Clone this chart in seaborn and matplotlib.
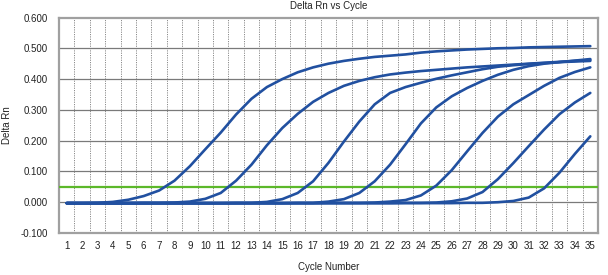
import matplotlib
matplotlib.use("Agg")
import matplotlib.pyplot as plt
import seaborn as sns
import pandas as pd
import numpy as np

cycles = list(range(1, 36))
curve_a = [-0.003, -0.003, -0.002, 0.001, 0.008, 0.020, 0.038, 0.070, 0.117, 0.172,
           0.226, 0.285, 0.336, 0.374, 0.400, 0.422, 0.438, 0.450, 0.459, 0.466,
           0.472, 0.476, 0.480, 0.486, 0.490, 0.493, 0.496, 0.498, 0.500, 0.501,
           0.503, 0.504, 0.505, 0.506, 0.507]
curve_b = [-0.003, -0.003, -0.003, -0.003, -0.003, -0.002, -0.002, -0.001, 0.002, 0.011,
           0.030, 0.070, 0.122, 0.185, 0.241, 0.287, 0.326, 0.355, 0.378, 0.394,
           0.406, 0.415, 0.421, 0.426, 0.430, 0.434, 0.438, 0.441, 0.444, 0.447,
           0.450, 0.453, 0.456, 0.459, 0.462]
curve_c = [-0.003, -0.003, -0.003, -0.003, -0.003, -0.003, -0.003, -0.003, -0.003, -0.003,
           -0.003, -0.002, -0.002, 0.001, 0.010, 0.030, 0.068, 0.128, 0.197, 0.262,
           0.318, 0.355, 0.374, 0.388, 0.401, 0.412, 0.422, 0.432, 0.440, 0.445,
           0.449, 0.452, 0.455, 0.457, 0.459]
curve_d = [-0.003, -0.003, -0.003, -0.003, -0.003, -0.003, -0.003, -0.003, -0.003, -0.003,
           -0.003, -0.003, -0.003, -0.003, -0.003, -0.002, -0.002, 0.002, 0.010, 0.030,
           0.068, 0.122, 0.188, 0.256, 0.308, 0.344, 0.371, 0.394, 0.414, 0.430,
           0.442, 0.450, 0.455, 0.460, 0.465]
curve_e = [-0.003, -0.003, -0.003, -0.003, -0.003, -0.003, -0.003, -0.003, -0.003, -0.003,
           -0.003, -0.003, -0.003, -0.003, -0.003, -0.003, -0.003, -0.002, -0.002, -0.002,
           -0.001, 0.002, 0.007, 0.022, 0.054, 0.104, 0.165, 0.225, 0.278, 0.318,
           0.348, 0.378, 0.404, 0.423, 0.438]
curve_f = [-0.003, -0.003, -0.003, -0.003, -0.003, -0.003, -0.003, -0.003, -0.003, -0.003,
           -0.003, -0.003, -0.003, -0.003, -0.003, -0.003, -0.003, -0.003, -0.003, -0.003,
           -0.003, -0.003, -0.002, -0.002, -0.001, 0.003, 0.012, 0.033, 0.075, 0.127,
           0.182, 0.236, 0.286, 0.324, 0.355]
curve_g = [-0.003, -0.003, -0.003, -0.003, -0.003, -0.003, -0.003, -0.003, -0.003, -0.003,
           -0.003, -0.003, -0.003, -0.003, -0.003, -0.003, -0.003, -0.003, -0.003, -0.003,
           -0.003, -0.003, -0.003, -0.003, -0.003, -0.003, -0.002, -0.002, 0.000, 0.004,
           0.015, 0.045, 0.096, 0.157, 0.214]
threshold = 0.05
y_ticks = [-0.1, 0.0, 0.1, 0.2, 0.3, 0.4, 0.5, 0.6]

series = {"A": curve_a, "B": curve_b, "C": curve_c, "D": curve_d,
          "E": curve_e, "F": curve_f, "G": curve_g}
rows = []
for name, vals in series.items():
    for c, v in zip(cycles, vals):
        rows.append({"Cycle": c, "DeltaRn": v, "Well": name})
df = pd.DataFrame(rows)

sns.set_style("white")
plt.rcParams["font.family"] = ["Liberation Sans", "DejaVu Sans"]

fig = plt.figure(figsize=(6.08, 2.75), dpi=100)
ax = fig.add_axes([59 / 608, 1 - 233 / 275, (598 - 59) / 608, (233 - 17.5) / 275])

blue = "#2150a0"
sns.lineplot(data=df, x="Cycle", y="DeltaRn", hue="Well",
             palette=[blue] * len(series), linewidth=1.9, legend=False,
             ax=ax, zorder=4)
ax.axhline(threshold, color="#5cb82a", linewidth=1.6, zorder=3)

ax.set_xlim(0.5, 35.5)
ax.set_ylim(-0.1, 0.6)
ax.set_xticks(cycles)
ax.set_xticklabels([str(c) for c in cycles])
ax.set_xticks([c + 0.5 for c in cycles[:-1]], minor=True)
ax.set_yticks(y_ticks)
ax.set_yticklabels([f"{v:.3f}" for v in y_ticks])

ax.grid(False)
for v in y_ticks[1:-1]:
    ax.axhline(v, color="#7a7a7a", linewidth=0.9, zorder=1)
ax.grid(which="minor", axis="x", color="#8a8a8a", linestyle=(0, (1.2, 1.2)),
        linewidth=0.7, zorder=1)

ax.tick_params(axis="both", which="both", length=0, labelsize=7, colors="#222222")
ax.tick_params(axis="y", pad=8)
ax.tick_params(axis="x", pad=6)

for s in ax.spines.values():
    s.set_color("#a0a0a0")
    s.set_linewidth(1.6)
    s.set_visible(True)

ax.set_title("Delta Rn vs Cycle", fontsize=7, color="#222222", pad=6)
ax.set_xlabel("Cycle Number", fontsize=7, color="#222222")
ax.xaxis.set_label_coords(0.5, -0.135)
ax.set_ylabel("Delta Rn", fontsize=7, color="#222222")
ax.yaxis.set_label_coords(-0.088, 0.5)

fig.savefig("out.png", dpi=100)
